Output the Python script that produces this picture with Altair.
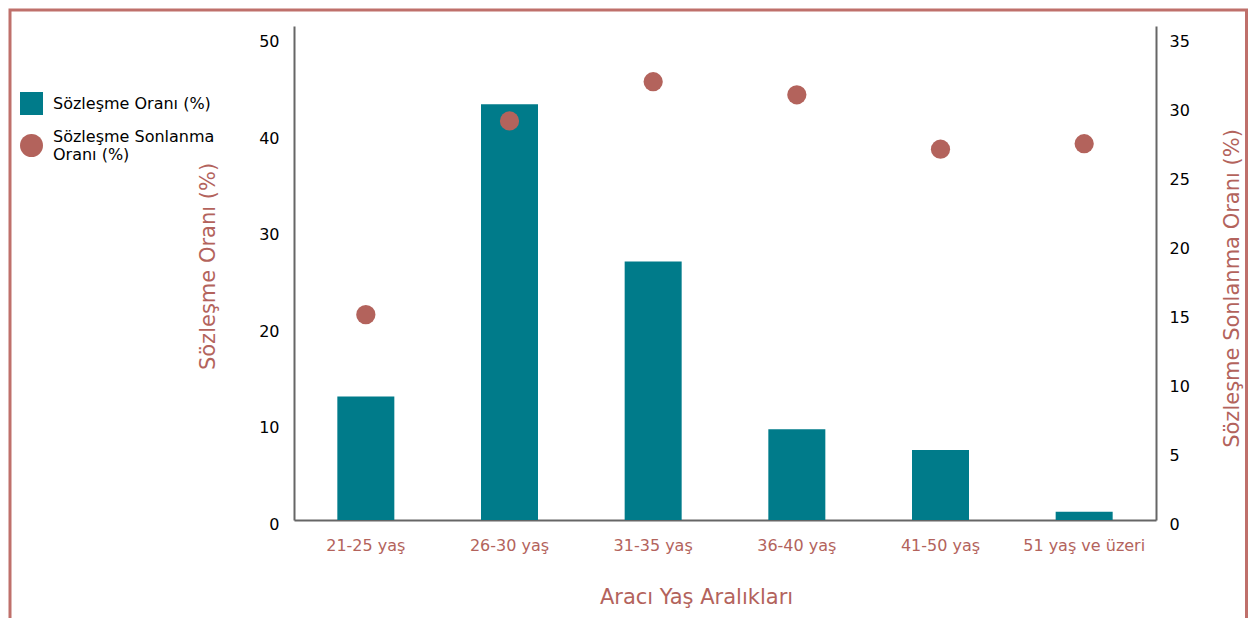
import altair as alt
import pandas as pd

categories = ["21-25 yaş", "26-30 yaş", "31-35 yaş", "36-40 yaş", "41-50 yaş", "51 yaş ve üzeri"]
contract_rate = [12.8, 43.1, 26.8, 9.4, 7.25, 0.85]
termination_rate = [14.9, 28.95, 31.8, 30.85, 26.9, 27.3]

series_bar = "Sözleşme Oranı (%)"
series_point = "Sözleşme Sonlanma Oranı (%)"

TEAL = "#007b8a"
ROSE = "#b3635c"
FRAME = "#bf706b"
FONT = "DejaVu Sans"

bars_df = pd.DataFrame({"category": categories, "value": contract_rate, "series": series_bar})
pts_df = pd.DataFrame({"category": categories, "value": termination_rate, "series": series_point})

W, H = 862, 494

color_scale = alt.Scale(domain=[series_bar, series_point], range=[TEAL, ROSE])
shape_scale = alt.Scale(domain=[series_bar, series_point], range=["square", "circle"])

legend = alt.Legend(
    title=None,
    orient="none",
    legendX=-274,
    legendY=66,
    labelFont=FONT,
    labelFontSize=16,
    labelColor="#000000",
    symbolSize=529,
    symbolStrokeWidth=0,
    labelOffset=10,
    rowPadding=13,
    padding=0,
    labelLimit=300,
    labelBaseline={"expr": "datum.value == 'Sözleşme Sonlanma Oranı (%)' ? 'line-bottom' : 'middle'"},
    labelExpr="datum.label == 'Sözleşme Sonlanma Oranı (%)' ? ['Sözleşme Sonlanma', 'Oranı (%)'] : datum.label",
)

x_enc = alt.X(
    "category:N",
    sort=categories,
    scale=alt.Scale(domain=categories, paddingInner=0, paddingOuter=0),
    axis=alt.Axis(
        title="Aracı Yaş Aralıkları",
        labelAngle=0,
        labelColor=ROSE,
        labelFontSize=16,
        labelFont=FONT,
        labelPadding=17,
        ticks=False,
        tickSize=0,
        domainColor="#666666",
        domainWidth=2,
        titleColor=ROSE,
        titleFontSize=21,
        titleFont=FONT,
        titleFontWeight="normal",
        titleX=402,
        titleY=77,
        titleBaseline="middle",
        titleAlign="center",
        grid=False,
    ),
)

bars = alt.Chart(bars_df).mark_bar(size=57).encode(
    x=x_enc,
    y=alt.Y(
        "value:Q",
        scale=alt.Scale(domain=[0, 51.2], nice=False, zero=True),
        axis=alt.Axis(
            title=series_bar,
            orient="left",
            values=[0, 10, 20, 30, 40, 50],
            labelColor="#000000",
            labelFontSize=16,
            labelFont=FONT,
            labelPadding=15,
            labelOffset=4,
            ticks=False,
            tickSize=0,
            domainColor="#666666",
            domainWidth=2,
            grid=False,
            titleColor=ROSE,
            titleFontSize=21,
            titleFont=FONT,
            titleFontWeight="normal",
            titleAngle=270,
            titleX=-86,
            titleY=240,
            titleBaseline="middle",
            titleAlign="center",
        ),
    ),
    color=alt.Color("series:N", scale=color_scale, legend=legend),
)

points = alt.Chart(pts_df).mark_point(filled=True, size=370, opacity=1).encode(
    x=alt.X("category:N", sort=categories),
    y=alt.Y(
        "value:Q",
        scale=alt.Scale(domain=[0, 35.84], nice=False, zero=True),
        axis=alt.Axis(
            title=series_point,
            orient="right",
            values=[0, 5, 10, 15, 20, 25, 30, 35],
            labelColor="#000000",
            labelFontSize=16,
            labelFont=FONT,
            labelPadding=13,
            labelOffset=4,
            ticks=False,
            tickSize=0,
            domainColor="#666666",
            domainWidth=2,
            grid=False,
            titleColor=ROSE,
            titleFontSize=21,
            titleFont=FONT,
            titleFontWeight="normal",
            titleAngle=270,
            titleX=76,
            titleY=262,
            titleBaseline="middle",
            titleAlign="center",
        ),
    ),
    color=alt.Color("series:N", scale=color_scale, legend=legend),
    shape=alt.Shape("series:N", scale=shape_scale, legend=legend),
)

frame = alt.Chart(alt.Data(values=[{"a": 1}])).mark_rect(
    filled=False, stroke=FRAME, strokeWidth=3, clip=False
).encode(
    x=alt.value(-284),
    x2=alt.value(952.5),
    y=alt.value(-16),
    y2=alt.value(700),
)

chart = (
    alt.layer(bars, points, frame)
    .resolve_scale(y="independent")
    .properties(
        width=W,
        height=H,
        autosize=alt.AutoSizeParams(type="none"),
        padding={"left": 286, "top": 18, "right": 92, "bottom": 98},
        background="white",
    )
    .configure_view(strokeWidth=0)
)

chart.save("out.html", embed_options={"renderer": "svg", "actions": False})
